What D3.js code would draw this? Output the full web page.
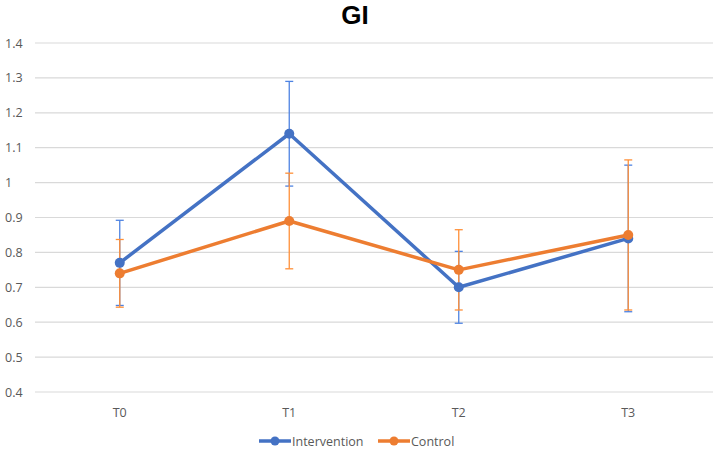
<!DOCTYPE html>
<html><head><meta charset="utf-8">
<script src="https://cdn.jsdelivr.net/npm/d3@7"></script>
<style>body{margin:0;background:#fff}svg{display:block}</style>
</head><body>
<script>
const categories = ["T0","T1","T2","T3"];
const intervention = [0.77,1.14,0.70,0.84];
const interventionErr = [0.122,0.15,0.103,0.21];
const control = [0.74,0.89,0.75,0.85];
const controlErr = [0.097,0.137,0.115,0.215];
const yTicks = [0.4,0.5,0.6,0.7,0.8,0.9,1,1.1,1.2,1.3,1.4];
const seriesNames = ["Intervention","Control"];
const colors = ["#4472C4","#ED7D31"];

const W=717,H=454;
const svg=d3.select("body").append("svg").attr("width",W).attr("height",H);
const font="'Open Sans', 'Noto Sans', sans-serif";
const x=d3.scaleBand().domain(categories).range([35,713]);
const y=d3.scaleLinear().domain([0.4,1.4]).range([392,43]);

svg.append("text").attr("x",355).attr("y",24).attr("text-anchor","middle")
  .attr("font-family","'Liberation Sans', Arial, sans-serif").attr("font-weight","bold").attr("font-size",26).attr("fill","#000").text("GI");

const grid=svg.append("g");
grid.selectAll("line").data(yTicks).join("line")
  .attr("x1",35).attr("x2",713).attr("y1",d=>y(d)).attr("y2",d=>y(d))
  .attr("stroke","#d9d9d9").attr("stroke-width",1.2);
const yAxis=svg.append("g").attr("transform","translate(27,0)")
  .call(d3.axisLeft(y).tickValues(yTicks).tickSize(0).tickFormat(d=>String(d)));
yAxis.select(".domain").remove();
yAxis.selectAll("text").attr("font-family",font).attr("font-size",12.5).attr("fill","#595959").attr("text-anchor","start").attr("x",-22);

const xAxis=svg.append("g").attr("transform","translate(0,405)")
  .call(d3.axisBottom(x).tickSize(0));
xAxis.select(".domain").remove();
xAxis.selectAll("text").attr("font-family",font).attr("font-size",12.5).attr("fill","#595959");

const series=[{v:intervention,e:interventionErr,c:colors[0]},{v:control,e:controlErr,c:colors[1]}];
const cx=d=>x(d)+x.bandwidth()/2;
// error bars
series.forEach(s=>{
  const g=svg.append("g");
  const errColor=d3.color(s.c).brighter(0.4);
  categories.forEach((c,i)=>{
    const top=y(s.v[i]+s.e[i]),bot=y(s.v[i]-s.e[i]);
    g.append("line").attr("x1",cx(c)).attr("x2",cx(c)).attr("y1",top).attr("y2",bot).attr("stroke",errColor).attr("stroke-width",1.3);
    [top,bot].forEach(yy=>g.append("line").attr("x1",cx(c)-4).attr("x2",cx(c)+4).attr("y1",yy).attr("y2",yy).attr("stroke",errColor).attr("stroke-width",1.3));
  });
});
series.forEach(s=>{
  svg.append("path").datum(s.v).attr("fill","none").attr("stroke",s.c).attr("stroke-width",3.5).attr("stroke-linejoin","round")
    .attr("d",d3.line().x((d,i)=>cx(categories[i])).y(d=>y(d)));
  svg.append("g").selectAll("circle").data(s.v).join("circle")
    .attr("cx",(d,i)=>cx(categories[i])).attr("cy",d=>y(d)).attr("r",5).attr("fill",s.c);
});

// legend
const leg=svg.append("g");
const legX=[259,378];
seriesNames.forEach((n,i)=>{
  const lx=legX[i];
  leg.append("line").attr("x1",lx).attr("x2",lx+32).attr("y1",441).attr("y2",441).attr("stroke",colors[i]).attr("stroke-width",3.5);
  leg.append("circle").attr("cx",lx+16).attr("cy",441).attr("r",4.5).attr("fill",colors[i]);
  leg.append("text").attr("x",lx+33).attr("y",445.5).attr("font-family",font).attr("font-size",12.5).attr("fill","#595959").text(n);
});
</script>
</body></html>
